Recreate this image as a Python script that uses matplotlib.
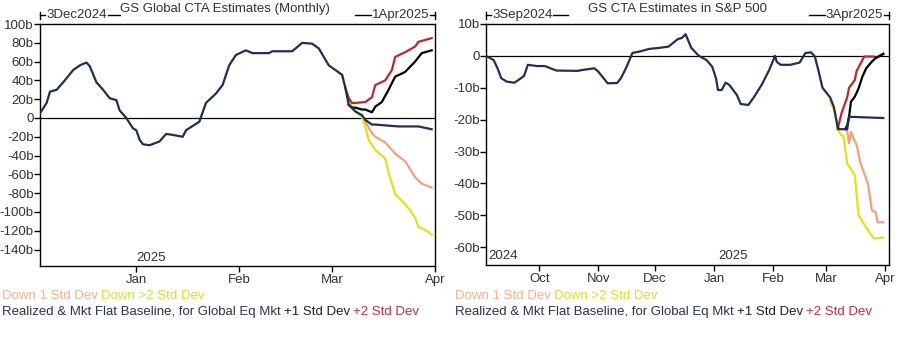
import matplotlib
matplotlib.use("Agg")
import matplotlib.pyplot as plt
import matplotlib.dates as mdates
import pandas as pd
from matplotlib.lines import Line2D

plt.rcParams['font.family'] = ['Liberation Sans', 'DejaVu Sans']

# ---------------- Left chart: GS Global CTA Estimates (Monthly) ----------------
L_base_dates = ["2024-12-03","2024-12-05","2024-12-06","2024-12-08","2024-12-10","2024-12-13",
                "2024-12-15","2024-12-17","2024-12-18","2024-12-20","2024-12-22","2024-12-24",
                "2024-12-26","2024-12-27","2024-12-29","2024-12-31","2025-01-01","2025-01-02",
                "2025-01-03","2025-01-05","2025-01-08","2025-01-10","2025-01-12","2025-01-15",
                "2025-01-16","2025-01-20","2025-01-22","2025-01-25","2025-01-27","2025-01-29",
                "2025-01-31","2025-02-03","2025-02-05","2025-02-10","2025-02-11","2025-02-17",
                "2025-02-20","2025-02-23","2025-02-25","2025-02-28","2025-03-02","2025-03-04",
                "2025-03-05","2025-03-06","2025-03-08","2025-03-10","2025-03-11","2025-03-13",
                "2025-03-14","2025-03-21","2025-03-27","2025-03-31"]
L_base_vals = [5,16,28,30,38,51,56,59,55,38,30,21,19,8,0,-11,-13,-23,-28,-29,-25,-17,-18,-20,
               -13,-4,16,26,35,56,67,72,69,69,71,71,80,79,74,56,51,46,32,14,7,3,-2,-7,-7,-9,-9,-12]

L_down2_dates = ["2025-03-03","2025-03-04","2025-03-05","2025-03-07","2025-03-08","2025-03-10",
                 "2025-03-11","2025-03-12","2025-03-14","2025-03-17","2025-03-18","2025-03-20",
                 "2025-03-22","2025-03-24","2025-03-26","2025-03-27","2025-03-29","2025-03-31"]
L_down2_vals = [48,46,32,12,7,1,-9,-23,-34,-43,-58,-81,-88,-96,-106,-116,-119,-124]

L_down1_dates = ["2025-03-10","2025-03-11","2025-03-13","2025-03-14","2025-03-17","2025-03-20",
                 "2025-03-23","2025-03-26","2025-03-28","2025-03-31"]
L_down1_vals = [2,-4,-16,-20,-26,-38,-46,-63,-70,-74]

L_up2_dates = ["2025-03-05","2025-03-06","2025-03-07","2025-03-08","2025-03-11","2025-03-13",
               "2025-03-14","2025-03-17","2025-03-19","2025-03-20","2025-03-23","2025-03-26",
               "2025-03-27","2025-03-31"]
L_up2_vals = [32,21,16,16,17,22,35,40,51,65,70,76,81,85]

L_up1_dates = ["2025-03-06","2025-03-07","2025-03-08","2025-03-10","2025-03-11","2025-03-13",
               "2025-03-14","2025-03-16","2025-03-18","2025-03-20","2025-03-23","2025-03-26",
               "2025-03-28","2025-03-31"]
L_up1_vals = [14,11,11,9,9,6,12,17,30,44,49,60,69,72]

L_yticks = [100,80,60,40,20,0,-20,-40,-60,-80,-100,-120,-140]
L_ylabels = ["100b","80b","60b","40b","20b","0","-20b","-40b","-60b","-80b","-100b","-120b","-140b"]
L_xticks = ["2025-01-01","2025-02-01","2025-03-01","2025-04-01"]
L_xlabels = ["Jan","Feb","Mar","Apr"]

# ---------------- Right chart: GS CTA Estimates in S&P 500 ----------------
R_base_dates = ["2024-09-03","2024-09-07","2024-09-09","2024-09-11","2024-09-14","2024-09-18",
                "2024-09-20","2024-09-23","2024-09-25","2024-09-30","2024-10-04","2024-10-10",
                "2024-10-21","2024-10-24","2024-10-30","2024-11-01","2024-11-06","2024-11-11",
                "2024-11-13","2024-11-16","2024-11-19","2024-11-23","2024-11-28","2024-12-03",
                "2024-12-08","2024-12-13","2024-12-15","2024-12-17","2024-12-20","2024-12-24",
                "2024-12-28","2024-12-31","2025-01-02","2025-01-03","2025-01-05","2025-01-07",
                "2025-01-09","2025-01-13","2025-01-15","2025-01-19","2025-01-22","2025-01-26",
                "2025-01-30","2025-02-02","2025-02-03","2025-02-05","2025-02-10","2025-02-15",
                "2025-02-18","2025-02-21","2025-02-23","2025-02-25","2025-02-27","2025-03-03",
                "2025-03-05","2025-03-07","2025-03-08","2025-03-12","2025-03-13","2025-03-22",
                "2025-03-31"]
R_base_vals = [0,-1.3,-3.8,-7,-8.1,-8.4,-7.6,-6.3,-2.8,-3.2,-3.2,-4.6,-4.7,-4.4,-3.9,-4.9,-8.6,
               -8.5,-7,-3.4,0.9,1.4,2.2,2.5,2.9,5.3,5.6,6.8,2.5,0,-1.3,-3.4,-7,-10.7,-10.7,-8.4,
               -9.1,-12.3,-15.1,-15.4,-12.9,-9.1,-4.4,0,-1.9,-2.8,-2.8,-2.1,0.9,1.1,-0.2,-4.9,
               -10,-13,-16,-22.5,-23,-23,-19.1,-19.3,-19.5]

R_down2_dates = ["2025-03-03","2025-03-06","2025-03-07","2025-03-09","2025-03-10","2025-03-12",
                 "2025-03-16","2025-03-18","2025-03-22","2025-03-26","2025-03-30","2025-03-31"]
R_down2_vals = [-13.9,-18.6,-23,-25,-25,-33.7,-37.5,-50,-53.8,-57.3,-57,-57]

R_down1_dates = ["2025-03-12","2025-03-13","2025-03-14","2025-03-15","2025-03-17","2025-03-19",
                 "2025-03-21","2025-03-23","2025-03-25","2025-03-27","2025-03-28","2025-03-31"]
R_down1_vals = [-23.5,-27.4,-23.8,-25.4,-28,-33.7,-36.9,-40.3,-48.5,-49,-52.2,-52.2]

R_up2_dates = ["2025-03-07","2025-03-09","2025-03-12","2025-03-13","2025-03-16","2025-03-17",
               "2025-03-21","2025-03-26","2025-03-27","2025-03-31"]
R_up2_vals = [-23,-18,-13,-10,-7.6,-4.7,-0.2,-0.2,-0.7,0.7]

R_up1_dates = ["2025-03-11","2025-03-12","2025-03-13","2025-03-14","2025-03-16","2025-03-18",
               "2025-03-20","2025-03-22","2025-03-25","2025-03-27","2025-03-31"]
R_up1_vals = [-23,-21.8,-19,-14.4,-12.8,-10.2,-6.5,-3.9,-1.8,-0.7,0.6]

R_yticks = [10,0,-10,-20,-30,-40,-50,-60]
R_ylabels = ["10b","0","-10b","-20b","-30b","-40b","-50b","-60b"]
R_xticks = ["2024-10-01","2024-11-01","2024-12-01","2025-01-01","2025-02-01","2025-03-01","2025-04-01"]
R_xlabels = ["Oct","Nov","Dec","Jan","Feb","Mar","Apr"]

C_NAVY = "#1f2f55"
C_RED = "#c0272d"
C_BLACK = "#000000"
C_SALMON = "#f4a07c"
C_YELLOW = "#dfe21c"
TXT = "#333333"
FS = 9.5

W, H = 910, 344
fig = plt.figure(figsize=(W/100, H/100), dpi=100)

def px_ax(x0, x1, ytop, ybot):
    return fig.add_axes([x0/W, 1-ybot/H, (x1-x0)/W, (ybot-ytop)/H])

def D(lst):
    return pd.to_datetime(lst)

def style(ax, xlim, ylim, yticks, ylabels, xticks, xlabels):
    ax.set_xlim(pd.Timestamp(xlim[0]), pd.Timestamp(xlim[1]))
    ax.set_ylim(*ylim)
    ax.set_yticks(yticks)
    ax.set_yticklabels(ylabels)
    ax.set_xticks(D(xticks))
    ax.set_xticklabels(xlabels)
    ax.tick_params(axis='both', direction='out', length=4, width=1, colors='black',
                   labelcolor=TXT, labelsize=FS, pad=0.5)
    ax.tick_params(axis='x', pad=2)
    for s in ax.spines.values():
        s.set_linewidth(1)
        s.set_color('black')
    ax.axhline(0, color='black', lw=0.9, zorder=1)

LW = 1.6
# Left
axL = px_ax(40, 435, 24, 266)
axL.plot(D(L_down1_dates), L_down1_vals, color=C_SALMON, lw=LW, zorder=2)
axL.plot(D(L_down2_dates), L_down2_vals, color=C_YELLOW, lw=LW, zorder=2)
axL.plot(D(L_up2_dates), L_up2_vals, color=C_RED, lw=LW, zorder=2)
axL.plot(D(L_up1_dates), L_up1_vals, color=C_BLACK, lw=LW, zorder=2)
axL.plot(D(L_base_dates), L_base_vals, color=C_NAVY, lw=LW, zorder=3)
style(axL, ("2024-12-03", "2025-04-01"), (-157.5, 100), L_yticks, L_ylabels, L_xticks, L_xlabels)
axL.text(pd.Timestamp("2025-01-01"), -157.5 + 2, "2025", fontsize=FS, color=TXT, ha='left', va='bottom')

# Right
axR = px_ax(486, 889, 24, 265)
axR.plot(D(R_down1_dates), R_down1_vals, color=C_SALMON, lw=LW, zorder=2)
axR.plot(D(R_down2_dates), R_down2_vals, color=C_YELLOW, lw=LW, zorder=2)
axR.plot(D(R_up2_dates), R_up2_vals, color=C_RED, lw=LW, zorder=2)
axR.plot(D(R_up1_dates), R_up1_vals, color=C_BLACK, lw=LW, zorder=2)
axR.plot(D(R_base_dates), R_base_vals, color=C_NAVY, lw=LW, zorder=3)
style(axR, ("2024-09-03", "2025-04-03"), (-65.6, 10), R_yticks, R_ylabels, R_xticks, R_xlabels)
axR.text(pd.Timestamp("2024-09-04"), -65.6 + 0.8, "2024", fontsize=FS, color=TXT, ha='left', va='bottom')
axR.text(pd.Timestamp("2025-01-03"), -65.6 + 0.8, "2025", fontsize=FS, color=TXT, ha='left', va='bottom')

# Titles and range markers (figure pixel coords)
def ftext(x, y, s, **kw):
    fig.text(x/W, 1-y/H, s, fontsize=FS, color=TXT, **kw)

def fline(x0, x1, y):
    fig.add_artist(Line2D([x0/W, x1/W], [1-y/H, 1-y/H], color='black', lw=1, transform=fig.transFigure))

def ftick(x, y):
    fig.add_artist(Line2D([x/W, x/W], [1-(y-3.5)/H, 1-(y+3.5)/H], color='black', lw=1, transform=fig.transFigure))

def range_marker(xl, xr, y, text, left=True):
    if left:
        ftick(xl, y)
        fline(xl, xl+5, y)
        t = fig.text((xl+6)/W, 1-y/H, text, fontsize=FS, color=TXT, ha='left', va='center')
        fig.canvas.draw()
        bb = t.get_window_extent()
        fline(bb.x1 + 1, xr, y)
    else:
        ftick(xr, y)
        fline(xr-5, xr, y)
        t = fig.text((xr-6)/W, 1-y/H, text, fontsize=FS, color=TXT, ha='right', va='center')
        fig.canvas.draw()
        bb = t.get_window_extent()
        fline(xl, bb.x0 - 1, y)

ftext(225, 9, "GS Global CTA Estimates (Monthly)", ha='center', va='center')
range_marker(40, 120, 15, "3Dec2024", left=True)
range_marker(355, 435, 15, "1Apr2025", left=False)

ftext(677, 9, "GS CTA Estimates in S&P 500", ha='center', va='center')
range_marker(486, 568, 15, "3Sep2024", left=True)
range_marker(809, 889, 15, "3Apr2025", left=False)

# Legends as colored text rows
def color_row(x, y, parts):
    fig.canvas.draw()
    r = fig.canvas.get_renderer()
    cx = x
    for s, c in parts:
        t = fig.text(cx/W, 1-y/H, s, fontsize=FS, color=c, ha='left', va='center')
        bb = t.get_window_extent(renderer=r)
        cx = bb.x1 + 3

for x0 in (2, 455):
    color_row(x0, 296, [("Down 1 Std Dev", "#f2b08e"), ("Down >2 Std Dev", "#d8dc3a")])
    color_row(x0, 312, [("Realized & Mkt Flat Baseline, for Global Eq Mkt", "#2c3552"),
                        ("+1 Std Dev", "#222222"), ("+2 Std Dev", "#c0303c")])

fig.savefig("out.png", dpi=100)
